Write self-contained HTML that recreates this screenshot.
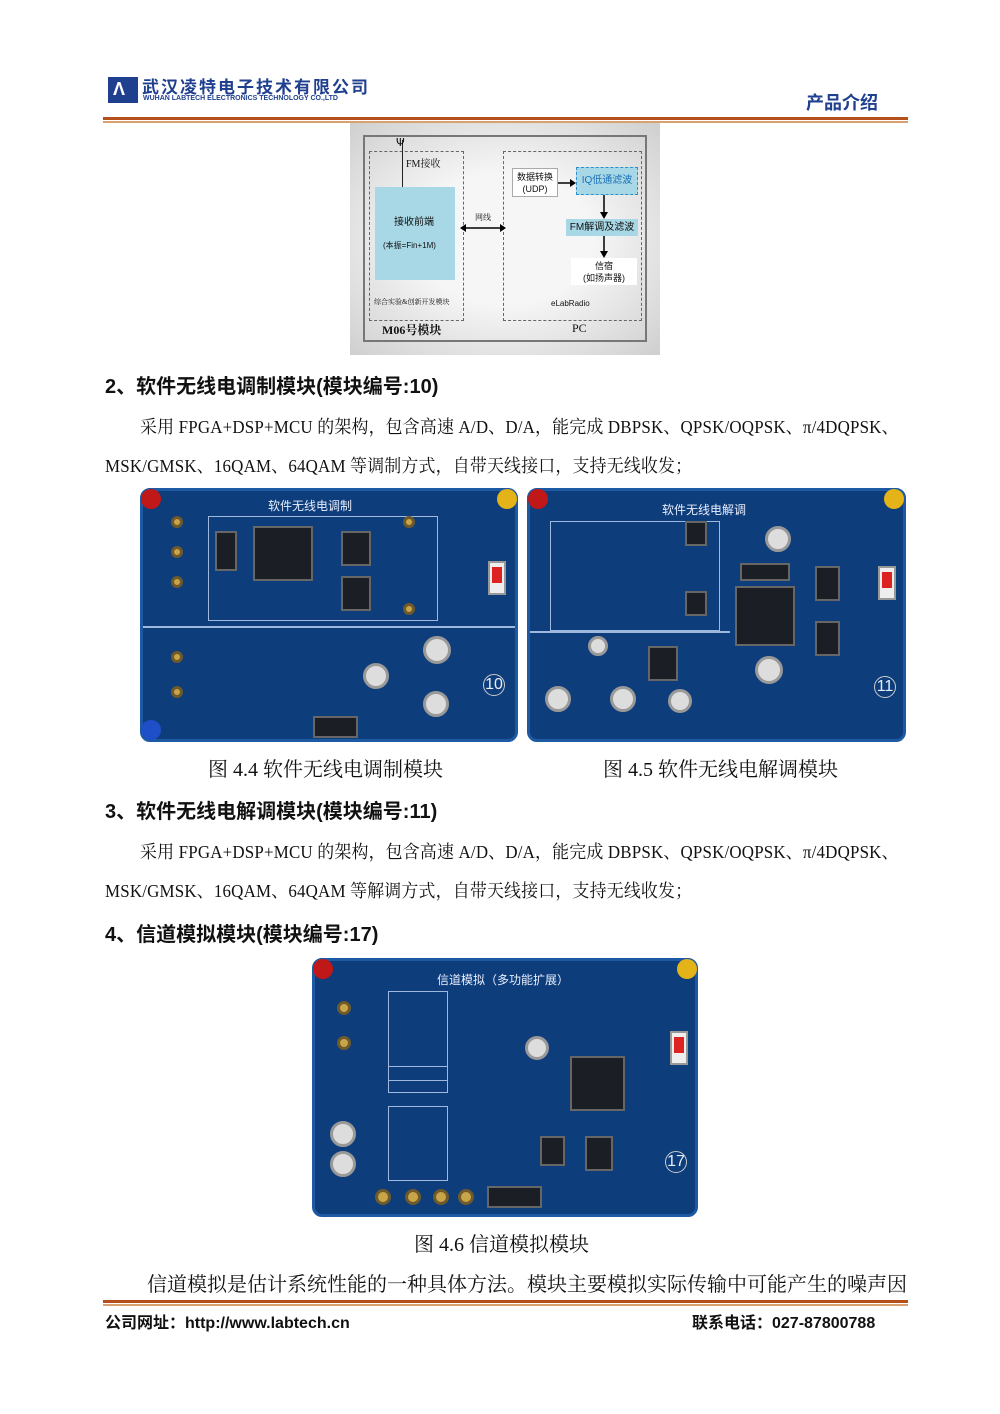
<!DOCTYPE html>
<html><head><meta charset="utf-8"><style>
*{margin:0;padding:0;box-sizing:border-box}
body{width:1000px;height:1414px;background:#fff;position:relative;overflow:hidden;font-family:"Liberation Serif","Noto Serif CJK SC",serif;color:#111}
.a{position:absolute;white-space:nowrap}
.h{font-family:"Liberation Sans","Noto Sans CJK SC",sans-serif;font-weight:bold;font-size:20px}
.p{font-size:18px;letter-spacing:0.2px;transform:scaleX(0.94);transform-origin:left top}
.c{font-size:20px}
.board{position:absolute;background:#0e3d7c;border:3px solid #1d5aa3;border-radius:10px;overflow:hidden}
.board .t{position:absolute;color:#e8eefc;font-family:"Liberation Sans","Noto Sans CJK SC",sans-serif;font-size:12px}
.k{position:absolute;width:20px;height:20px;border-radius:50%}
.chip{position:absolute;background:#1b1e25;border:2px solid #666}
.j{position:absolute;border-radius:50%;background:#c9a54a;border:3px solid #6e5a2a}
.ln{position:absolute;border:1px solid #9fb8e0}
</style></head><body>

<!-- header -->
<div class="a" style="left:108px;top:77px;width:30px;height:26px;background:#1f3f8f"></div>
<div class="a" style="left:113px;top:79px;color:#fff;font-size:18px;font-family:'Liberation Sans',sans-serif;font-weight:bold">Λ</div>
<div class="a" style="left:142px;top:73px;font-size:17px;font-weight:bold;color:#1f3f8f;letter-spacing:2px;font-family:'Liberation Sans','Noto Sans CJK SC',sans-serif">武汉凌特电子技术有限公司</div>
<div class="a" style="left:143px;top:95px;font-size:7px;color:#1f3f8f;font-family:'Liberation Sans',sans-serif;font-weight:bold">WUHAN LABTECH ELECTRONICS TECHNOLOGY CO.,LTD</div>
<div class="a" style="left:806px;top:89px;font-size:18px;font-weight:bold;color:#1f3f8f;font-family:'Liberation Sans','Noto Sans CJK SC',sans-serif">产品介绍</div>
<div class="a" style="left:103px;top:117px;width:805px;height:3px;background:#b5501c"></div>
<div class="a" style="left:103px;top:121px;width:805px;height:2px;background:#d9a070"></div>

<!-- top diagram -->
<div class="a" style="left:350px;top:123px;width:310px;height:232px;background:radial-gradient(ellipse at center,#f6f6f6 40%,#cfcfcf 100%)"></div>
<div class="a" style="left:363px;top:135px;width:284px;height:207px;border:2px solid #777"></div>
<div class="a" style="left:369px;top:151px;width:95px;height:170px;border:1px dashed #666"></div>
<div class="a" style="left:503px;top:151px;width:139px;height:170px;border:1px dashed #666"></div>
<div class="a" style="left:402px;top:140px;width:1px;height:48px;background:#222"></div>
<div class="a" style="left:396px;top:136px;font-size:11px;font-family:'DejaVu Sans',sans-serif">Ψ</div>
<div class="a" style="left:406px;top:155px;font-size:10px">FM接收</div>
<div class="a" style="left:375px;top:187px;width:80px;height:93px;background:#a8d8e6"></div>
<div class="a" style="left:394px;top:213px;font-size:10px;font-family:'Liberation Sans','Noto Sans CJK SC',sans-serif">接收前端</div>
<div class="a" style="left:383px;top:240px;font-size:8px;font-family:'Liberation Sans','Noto Sans CJK SC',sans-serif">(本振=Fin+1M)</div>
<div class="a" style="left:374px;top:297px;font-size:7px">综合实验&amp;创新开发模块</div>
<div class="a" style="left:382px;top:321px;font-size:12px;font-weight:bold">M06号模块</div>
<div class="a" style="left:572px;top:321px;font-size:12px">PC</div>
<div class="a" style="left:475px;top:212px;font-size:8px">网线</div>
<svg class="a" style="left:460px;top:222px" width="46" height="12"><line x1="4" y1="6" x2="42" y2="6" stroke="#000" stroke-width="1.5"/><path d="M0 6 L6 2 L6 10Z M46 6 L40 2 L40 10Z" fill="#000"/></svg>
<div class="a" style="left:512px;top:168px;width:46px;height:29px;background:#fff;border:1px solid #aaa;font-size:9px;text-align:center;line-height:12px;padding-top:2px;font-family:'Liberation Sans','Noto Sans CJK SC',sans-serif;white-space:normal">数据转换<br>(UDP)</div>
<svg class="a" style="left:558px;top:178px" width="18" height="10"><line x1="0" y1="5" x2="13" y2="5" stroke="#000" stroke-width="1.5"/><path d="M18 5 L12 1 L12 9Z"/></svg>
<div class="a" style="left:576px;top:167px;width:62px;height:28px;background:#a8d8e6;border:1px dashed #2a90d0;font-size:10px;color:#1a6fb8;text-align:center;line-height:26px;font-family:'Liberation Sans','Noto Sans CJK SC',sans-serif">IQ低通滤波</div>
<div class="a" style="left:566px;top:219px;width:72px;height:17px;background:#a8d8e6;font-size:10px;text-align:center;line-height:17px;font-family:'Liberation Sans','Noto Sans CJK SC',sans-serif">FM解调及滤波</div>
<div class="a" style="left:571px;top:258px;width:66px;height:27px;background:#fff;font-size:9px;text-align:center;line-height:12px;padding-top:2px;font-family:'Liberation Sans','Noto Sans CJK SC',sans-serif">信宿<br>(如扬声器)</div>
<svg class="a" style="left:599px;top:195px" width="10" height="64"><line x1="5" y1="0" x2="5" y2="18" stroke="#000" stroke-width="1.5"/><path d="M5 24 L1 17 L9 17Z"/><line x1="5" y1="41" x2="5" y2="57" stroke="#000" stroke-width="1.5"/><path d="M5 63 L1 56 L9 56Z"/></svg>
<div class="a" style="left:551px;top:299px;font-size:8px;font-family:'Liberation Sans',sans-serif">eLabRadio</div>

<!-- section 2 -->
<div class="a h" style="left:105px;top:370px">2、软件无线电调制模块(模块编号:10)</div>
<div class="a p" style="left:140px;top:413px">采用 FPGA+DSP+MCU 的架构，包含高速 A/D、D/A，能完成 DBPSK、QPSK/OQPSK、π/4DQPSK、</div>
<div class="a p" style="left:105px;top:452px">MSK/GMSK、16QAM、64QAM 等调制方式，自带天线接口，支持无线收发；</div>

<!-- board 10 -->
<div class="board" style="left:140px;top:488px;width:378px;height:254px">
 <div class="t" style="left:125px;top:6px">软件无线电调制</div>
 <div class="ln" style="left:65px;top:25px;width:230px;height:105px"></div>
 <div class="ln" style="left:0;top:135px;width:372px;height:1px"></div>
 <div class="chip" style="left:110px;top:35px;width:60px;height:55px"></div>
 <div class="chip" style="left:72px;top:40px;width:22px;height:40px"></div>
 <div class="chip" style="left:198px;top:40px;width:30px;height:35px"></div>
 <div class="chip" style="left:198px;top:85px;width:30px;height:35px"></div>
 <div class="chip" style="left:170px;top:225px;width:45px;height:22px"></div>
 <div class="j" style="left:28px;top:25px;width:12px;height:12px"></div>
 <div class="j" style="left:28px;top:55px;width:12px;height:12px"></div>
 <div class="j" style="left:28px;top:85px;width:12px;height:12px"></div>
 <div class="j" style="left:28px;top:160px;width:12px;height:12px"></div>
 <div class="j" style="left:28px;top:195px;width:12px;height:12px"></div>
 <div class="j" style="left:260px;top:25px;width:12px;height:12px"></div>
 <div class="j" style="left:260px;top:112px;width:12px;height:12px"></div>
 <div class="j" style="left:220px;top:172px;width:26px;height:26px;background:#ddd;border-color:#999"></div>
 <div class="j" style="left:280px;top:200px;width:26px;height:26px;background:#ddd;border-color:#999"></div>
 <div class="j" style="left:280px;top:145px;width:28px;height:28px;background:#ddd;border-color:#999"></div>
 <div class="a" style="left:345px;top:70px;width:18px;height:34px;background:#eee;border:2px solid #999"></div>
 <div class="a" style="left:349px;top:76px;width:10px;height:16px;background:#d22"></div>
 <div class="t" style="left:340px;top:183px;font-size:16px;border:1px solid #ccc;border-radius:50%;width:22px;height:22px;text-align:center;line-height:20px">10</div>
</div>
<div class="k" style="left:141px;top:489px;background:#c01818"></div>
<div class="k" style="left:497px;top:489px;background:#e3b317"></div>
<div class="k" style="left:141px;top:720px;background:#1e4fc8"></div>

<!-- board 11 -->
<div class="board" style="left:527px;top:488px;width:379px;height:254px">
 <div class="t" style="left:132px;top:10px">软件无线电解调</div>
 <div class="ln" style="left:20px;top:30px;width:170px;height:110px"></div>
 <div class="ln" style="left:0;top:140px;width:200px;height:1px"></div>
 <div class="chip" style="left:205px;top:95px;width:60px;height:60px"></div>
 <div class="chip" style="left:210px;top:72px;width:50px;height:18px"></div>
 <div class="chip" style="left:285px;top:75px;width:25px;height:35px"></div>
 <div class="chip" style="left:285px;top:130px;width:25px;height:35px"></div>
 <div class="chip" style="left:155px;top:30px;width:22px;height:25px"></div>
 <div class="chip" style="left:155px;top:100px;width:22px;height:25px"></div>
 <div class="chip" style="left:118px;top:155px;width:30px;height:35px"></div>
 <div class="j" style="left:235px;top:35px;width:26px;height:26px;background:#ddd;border-color:#999"></div>
 <div class="j" style="left:225px;top:165px;width:28px;height:28px;background:#ddd;border-color:#999"></div>
 <div class="j" style="left:15px;top:195px;width:26px;height:26px;background:#ddd;border-color:#999"></div>
 <div class="j" style="left:80px;top:195px;width:26px;height:26px;background:#ddd;border-color:#999"></div>
 <div class="j" style="left:138px;top:198px;width:24px;height:24px;background:#ddd;border-color:#999"></div>
 <div class="j" style="left:58px;top:145px;width:20px;height:20px;background:#ddd;border-color:#999"></div>
 <div class="a" style="left:348px;top:75px;width:18px;height:34px;background:#eee;border:2px solid #999"></div>
 <div class="a" style="left:352px;top:81px;width:10px;height:16px;background:#d22"></div>
 <div class="t" style="left:344px;top:185px;font-size:16px;border:1px solid #ccc;border-radius:50%;width:22px;height:22px;text-align:center;line-height:20px">11</div>
</div>
<div class="k" style="left:528px;top:489px;background:#c01818"></div>
<div class="k" style="left:884px;top:489px;background:#e3b317"></div>

<div class="a c" style="left:208px;top:753px">图 4.4 软件无线电调制模块</div>
<div class="a c" style="left:603px;top:753px">图 4.5 软件无线电解调模块</div>

<!-- section 3 -->
<div class="a h" style="left:105px;top:795px">3、软件无线电解调模块(模块编号:11)</div>
<div class="a p" style="left:140px;top:838px">采用 FPGA+DSP+MCU 的架构，包含高速 A/D、D/A，能完成 DBPSK、QPSK/OQPSK、π/4DQPSK、</div>
<div class="a p" style="left:105px;top:877px">MSK/GMSK、16QAM、64QAM 等解调方式，自带天线接口，支持无线收发；</div>
<div class="a h" style="left:105px;top:918px">4、信道模拟模块(模块编号:17)</div>

<!-- board 17 -->
<div class="board" style="left:312px;top:958px;width:386px;height:259px">
 <div class="t" style="left:122px;top:10px">信道模拟（多功能扩展）</div>
 <div class="ln" style="left:73px;top:30px;width:60px;height:90px"></div>
 <div class="ln" style="left:73px;top:105px;width:60px;height:27px"></div>
 <div class="ln" style="left:73px;top:145px;width:60px;height:75px"></div>
 <div class="chip" style="left:255px;top:95px;width:55px;height:55px"></div>
 <div class="chip" style="left:270px;top:175px;width:28px;height:35px"></div>
 <div class="chip" style="left:225px;top:175px;width:25px;height:30px"></div>
 <div class="chip" style="left:172px;top:225px;width:55px;height:22px"></div>
 <div class="j" style="left:22px;top:40px;width:14px;height:14px"></div>
 <div class="j" style="left:22px;top:75px;width:14px;height:14px"></div>
 <div class="j" style="left:15px;top:160px;width:26px;height:26px;background:#ddd;border-color:#999"></div>
 <div class="j" style="left:15px;top:190px;width:26px;height:26px;background:#ddd;border-color:#999"></div>
 <div class="j" style="left:60px;top:228px;width:16px;height:16px"></div>
 <div class="j" style="left:90px;top:228px;width:16px;height:16px"></div>
 <div class="j" style="left:118px;top:228px;width:16px;height:16px"></div>
 <div class="j" style="left:143px;top:228px;width:16px;height:16px"></div>
 <div class="j" style="left:210px;top:75px;width:24px;height:24px;background:#ddd;border-color:#999"></div>
 <div class="a" style="left:355px;top:70px;width:18px;height:34px;background:#eee;border:2px solid #999"></div>
 <div class="a" style="left:359px;top:76px;width:10px;height:16px;background:#d22"></div>
 <div class="t" style="left:350px;top:190px;font-size:16px;border:1px solid #ccc;border-radius:50%;width:22px;height:22px;text-align:center;line-height:20px">17</div>
</div>
<div class="k" style="left:313px;top:959px;background:#c01818"></div>
<div class="k" style="left:677px;top:959px;background:#e3b317"></div>

<div class="a c" style="left:414px;top:1228px">图 4.6 信道模拟模块</div>
<div class="a c" style="left:147px;top:1268px">信道模拟是估计系统性能的一种具体方法。模块主要模拟实际传输中可能产生的噪声因</div>

<!-- footer -->
<div class="a" style="left:103px;top:1300px;width:805px;height:3px;background:#b5501c"></div>
<div class="a" style="left:103px;top:1304px;width:805px;height:2px;background:#d9a070"></div>
<div class="a" style="left:105px;top:1309px;font-size:16px;font-weight:bold;font-family:'Liberation Sans','Noto Sans CJK SC',sans-serif">公司网址：http://www.labtech.cn</div>
<div class="a" style="left:692px;top:1309px;font-size:16px;font-weight:bold;font-family:'Liberation Sans','Noto Sans CJK SC',sans-serif">联系电话：027-87800788</div>
</body></html>
